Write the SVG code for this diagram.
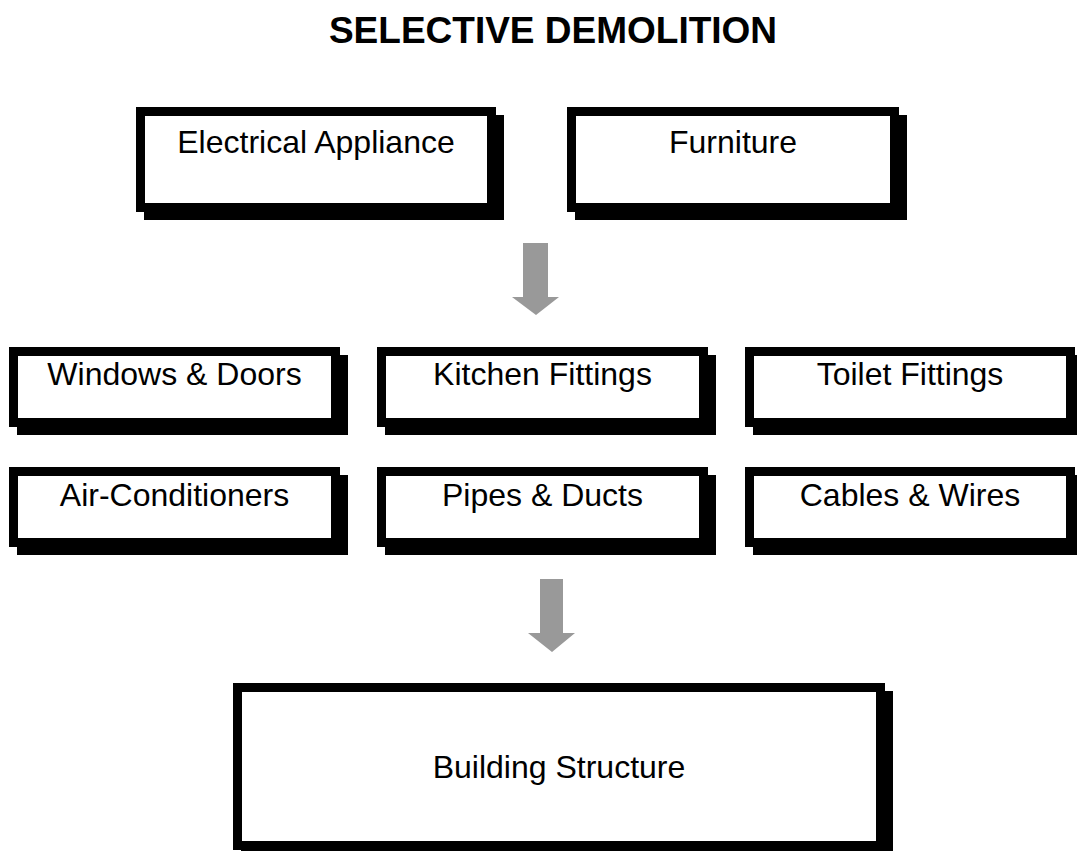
<svg xmlns="http://www.w3.org/2000/svg" width="1077" height="851" viewBox="0 0 1077 851">
<style>
.sh{fill:#000}
.bx{fill:#fff;stroke:#000;stroke-width:9}
.t{font-family:"Liberation Sans",Arial,sans-serif;font-size:32px;fill:#000;text-anchor:middle}
.title{font-family:"Liberation Sans",Arial,sans-serif;font-size:37px;font-weight:bold;fill:#000;text-anchor:middle}
.ar{fill:#999999}
</style>
<rect width="1077" height="851" fill="#fff"/>
<text class="title" x="553" y="43">SELECTIVE DEMOLITION</text>
<g id="electrical">
<rect class="sh" x="144" y="115" width="360" height="105"/>
<rect class="bx" x="140.5" y="111.5" width="351" height="96"/>
<text class="t" x="316" y="153">Electrical Appliance</text>
</g>
<g id="furniture">
<rect class="sh" x="575" y="115" width="332" height="105"/>
<rect class="bx" x="571.5" y="111.5" width="323" height="96"/>
<text class="t" x="733" y="153">Furniture</text>
</g>
<g id="windows">
<rect class="sh" x="17" y="355" width="331" height="80"/>
<rect class="bx" x="13.5" y="351.5" width="322" height="71"/>
<text class="t" x="174.5" y="385">Windows &amp; Doors</text>
</g>
<g id="kitchen">
<rect class="sh" x="385" y="355" width="331" height="80"/>
<rect class="bx" x="381.5" y="351.5" width="322" height="71"/>
<text class="t" x="542.5" y="385">Kitchen Fittings</text>
</g>
<g id="toilet">
<rect class="sh" x="753" y="355" width="330" height="80"/>
<rect class="bx" x="749.5" y="351.5" width="321" height="71"/>
<text class="t" x="910" y="385">Toilet Fittings</text>
</g>
<g id="aircon">
<rect class="sh" x="17" y="475" width="331" height="80"/>
<rect class="bx" x="13.5" y="471.5" width="322" height="71"/>
<text class="t" x="174.5" y="506">Air-Conditioners</text>
</g>
<g id="pipes">
<rect class="sh" x="385" y="475" width="331" height="80"/>
<rect class="bx" x="381.5" y="471.5" width="322" height="71"/>
<text class="t" x="542.5" y="506">Pipes &amp; Ducts</text>
</g>
<g id="cables">
<rect class="sh" x="753" y="475" width="330" height="80"/>
<rect class="bx" x="749.5" y="471.5" width="321" height="71"/>
<text class="t" x="910" y="506">Cables &amp; Wires</text>
</g>
<g id="building">
<rect class="sh" x="241" y="691" width="652" height="167"/>
<rect class="bx" x="237.5" y="687.5" width="643" height="158"/>
<text class="t" x="559" y="778">Building Structure</text>
</g>
<g id="connectors">
<polygon class="ar" points="523,243 548,243 548,297 559,297 536,315 512,297 523,297"/>
<polygon class="ar" points="540,579 563,579 563,633 575,633 552,652 528,633 540,633"/>
</g>
</svg>
